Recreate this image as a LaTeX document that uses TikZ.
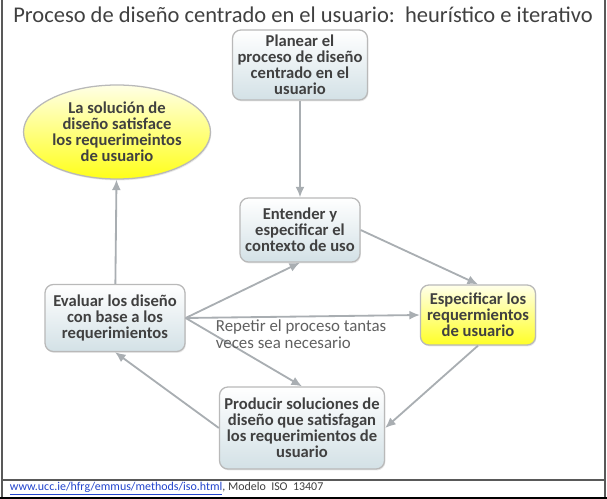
\documentclass[tikz,border=0pt]{standalone}
\usepackage{fontspec}
\setmainfont{Carlito}
\usetikzlibrary{arrows.meta,shapes.geometric,shadows}
\definecolor{ucdtext}{HTML}{404040}
\definecolor{ucdedge}{HTML}{A9AEB2}
\definecolor{ucdfill}{HTML}{D3E1E6}
\definecolor{ucdlink}{HTML}{2244CC}
\tikzset{
  ucdbox/.style={draw=gray!55,line width=0.9pt,rounded corners=6pt,
    top color=white,bottom color=ucdfill,align=center,
    font=\bfseries\fontsize{11.8}{11.4}\selectfont,text=ucdtext,
    drop shadow={opacity=0.18,shadow xshift=0.6pt,shadow yshift=-1pt}},
  ucdgoal/.style={ucdbox,top color=yellow!8,bottom color=yellow!85},
  ucdarrow/.style={-{Latex[length=7.5pt,width=6.5pt]},draw=ucdedge,line width=1.3pt},
  every picture/.style={font=\small}
}

\begin{document}
\begin{tikzpicture}[x=0.025cm,y=-0.025cm]
  \useasboundingbox (0,0) rectangle (607,499);
  % frame round the figure and the source line
  \draw[gray!70!black,line width=1pt] (2,0)--(2,499) (605,0)--(605,499);
  \draw[gray!70!black,line width=0.8pt] (2,480)--(605,480);
  \draw[black,line width=1.2pt] (0,498)--(607,498);
  \node[font=\fontsize{16}{18}\selectfont,text=ucdtext] (title) at (303,15)
    {Proceso de diseño centrado en el usuario:\ \ heurístico e iterativo};
  \node[ucdbox,minimum width=3.375cm,minimum height=1.75cm] (plan) at (300,65)
    {Planear el\\proceso de diseño\\centrado en el\\usuario};
  \node[ucdgoal,ellipse,top color=yellow!10,bottom color=yellow!90,
    minimum width=4.6cm,minimum height=2.35cm,inner sep=1pt] (meta) at (117,132)
    {La solución de\\diseño satisface\\los requerimeintos\\de usuario};
  \node[ucdbox,minimum width=3cm,minimum height=1.6cm] (ctx) at (300,230)
    {Entender y\\especificar el\\contexto de uso};
  \node[ucdbox,minimum width=3.5cm,minimum height=1.675cm] (eval) at (115,318)
    {Evaluar los diseño\\con base a los\\requerimientos};
  \node[ucdgoal,minimum width=2.875cm,minimum height=1.5cm] (req) at (478,315)
    {Especificar los\\requermientos\\de usuario};
  \node[ucdbox,minimum width=4.125cm,minimum height=2.05cm] (prod) at (302,428)
    {Producir soluciones de\\diseño que satisfagan\\los requerimientos de\\usuario};
  % cycle
  \draw[ucdarrow] (plan) -- (ctx);
  \draw[ucdarrow] (ctx.east) -- (req.north);
  \draw[ucdarrow] (req.south) -- (prod.east);
  \draw[ucdarrow] (prod.west) -- (eval.south);
  \draw[ucdarrow] (eval) -- (meta);
  \draw[ucdarrow] (eval.east) -- (ctx.south);
  \draw[ucdarrow] (eval.east) -- (req.west);
  \draw[ucdarrow] (eval.east) -- (prod.north);
  \node[anchor=north west,align=left,text=gray!75!black,
    font=\fontsize{12}{12}\selectfont] (rep) at (211,315)
    {Repetir el proceso tantas\\veces sea necesario};
  \node[anchor=west,font=\fontsize{8.5}{10}\selectfont,text=ucdtext] (src) at (5,489)
    {\textcolor{ucdlink}{\underline{www.ucc.ie/hfrg/emmus/methods/iso.html}},\ Modelo\ \ ISO\ \ 13407};
\end{tikzpicture}
\end{document}
